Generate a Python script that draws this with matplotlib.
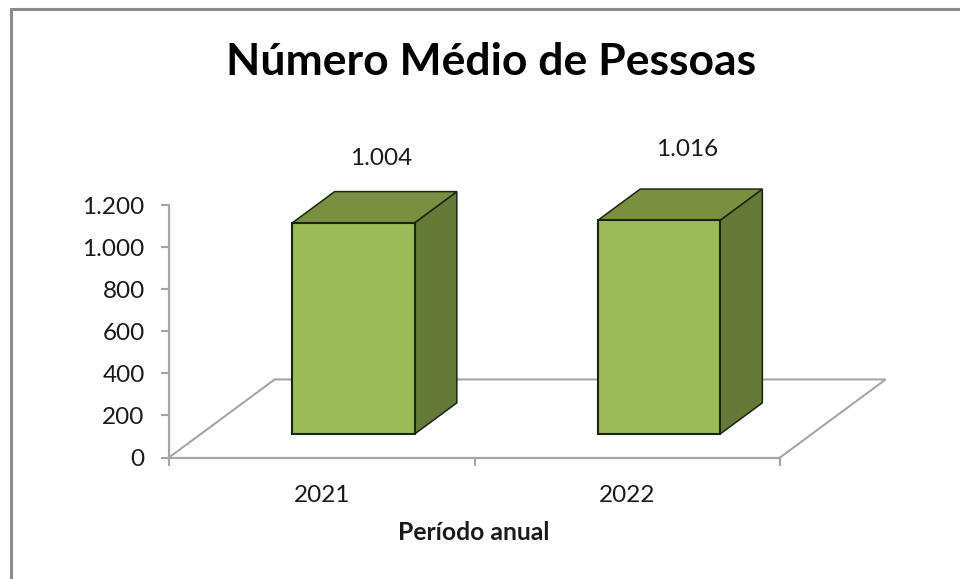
import matplotlib
matplotlib.use('Agg')
import matplotlib.pyplot as plt
from matplotlib.lines import Line2D

years = ['2021', '2022']
pessoas = [1004, 1016]
value_labels = ['1.004', '1.016']
y_ticks = [0, 200, 400, 600, 800, 1000, 1200]
y_tick_labels = ['0', '200', '400', '600', '800', '1.000', '1.200']

W, H = 960, 579
plt.rcParams['font.family'] = ['Lato', 'DejaVu Sans']

fig = plt.figure(figsize=(W / 100, H / 100), dpi=100)
ax = fig.add_axes([169 / W, 1 - 457.5 / H, 611 / W, 252.5 / H])
ax.set_xlim(0, 2)
ax.set_ylim(0, 1200)
ax.patch.set_alpha(0)

# fake 3D: depth 0..1 moves right and up on the floor
depth_x = 0.346
depth_y = 371
grey = '#a6a6a6'
label_up = [64, 71]  # pixels above the front top edge


def shift(x, v, d):
    return x + d * depth_x, v + d * depth_y


# floor
fx = [0, depth_x, 2 + depth_x, 2]
fy = [0, depth_y, depth_y, 0]
ax.plot(fx, fy, color=grey, lw=1.5, clip_on=False, zorder=1, solid_joinstyle='miter')

# bars
bar_w = 0.4
front = 0.3
back = 0.7
edge = '#1c2410'
for i, v in enumerate(pessoas):
    c = i + 0.5
    l, r = c - bar_w / 2, c + bar_w / 2
    x0, b0 = shift(l, 0, front)
    x1, t0 = shift(r, v, front)
    x2, b1 = shift(r, 0, back)
    x3, t1 = shift(l, v, back)
    # side face
    ax.fill([x1, x2, x2, x1], [b0, b1, t1, t0], facecolor='#647a36', edgecolor=edge,
            lw=1.1, clip_on=False, zorder=3)
    # top face
    ax.fill([x0, x1, x2, x3], [t0, t0, t1, t1], facecolor='#78903f', edgecolor=edge,
            lw=1.1, clip_on=False, zorder=3)
    # front face
    ax.bar(x0, t0 - b0, width=x1 - x0, bottom=b0, align='edge', color='#9bbb59',
           edgecolor=edge, lw=1.5, clip_on=False, zorder=4)
    ax.annotate(value_labels[i], xy=((x0 + x1) / 2, t0), xytext=(28 * 0.72, label_up[i] * 0.72),
                textcoords='offset points', ha='center', va='center', fontsize=17.5,
                color='#1a1a1a', annotation_clip=False)

# axes
for s in ['top', 'right']:
    ax.spines[s].set_visible(False)
for s in ['left', 'bottom']:
    ax.spines[s].set_color(grey)
    ax.spines[s].set_linewidth(1.6)

ax.set_yticks(y_ticks, y_tick_labels)
ax.tick_params(axis='y', length=6, width=1.5, color=grey, pad=11.5, labelsize=17.5, labelcolor='#1a1a1a')
ax.set_xticks([0, 1, 2], ['', '', ''])
ax.set_xticks([0.5, 1.5], years, minor=True)
ax.tick_params(axis='x', which='major', length=6, width=1.5, color=grey)
ax.tick_params(axis='x', which='minor', length=0, pad=19.5, labelsize=17.5, labelcolor='#1a1a1a')

fig.text(474 / W, 1 - 533 / H, 'Período anual', ha='center', va='center',
         fontsize=17.8, fontweight='bold', color='#1a1a1a')
fig.text(491 / W, 1 - 62 / H, 'Número Médio de Pessoas', ha='center', va='center',
         fontsize=32, fontweight='bold', color='black')

# chart frame, only top and left are visible in the crop
fig.add_artist(Line2D([10.5 / W, 10.5 / W, 1], [0, 1 - 8.5 / H, 1 - 8.5 / H],
                      color='#8c8c8c', lw=2.2, solid_joinstyle='miter'))

fig.savefig('out.png', dpi=100)
